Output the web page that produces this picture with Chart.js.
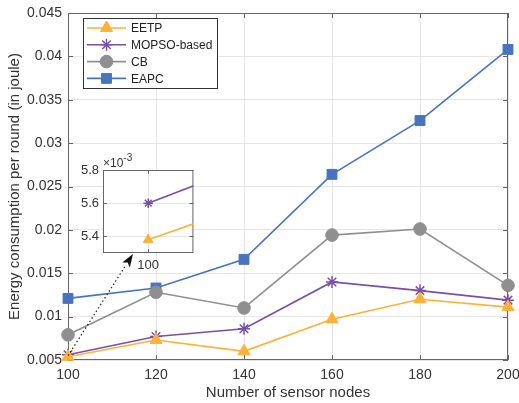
<!DOCTYPE html>
<html>
<head>
<meta charset="utf-8">
<script src="https://cdn.jsdelivr.net/npm/chart.js@4/dist/chart.umd.min.js"></script>
<style>
  html, body { margin: 0; padding: 0; background: #fff; }
  #wrap { position: relative; width: 519px; height: 403px; }
  #main { position: absolute; left: 0; top: 0; }
  #inset { position: absolute; left: 60px; top: 145px; }
</style>
</head>
<body>
<div id="wrap">
  <canvas id="main" width="519" height="403"></canvas>
  <canvas id="inset" width="140" height="130"></canvas>
</div>
<script>
const nodes = [100, 120, 140, 160, 180, 200];
const eetp  = [0.00538, 0.0073, 0.0060, 0.0097, 0.0120, 0.0111];
const mopso = [0.0056, 0.0077, 0.0086, 0.0140, 0.0130, 0.0119];
const cb    = [0.0079, 0.0128, 0.0110, 0.0194, 0.0201, 0.0136];
const eapc  = [0.0121, 0.0133, 0.0166, 0.0264, 0.0326, 0.0408];

const xTicks = [100, 120, 140, 160, 180, 200];
const yTicks = [0.005, 0.01, 0.015, 0.02, 0.025, 0.03, 0.035, 0.04, 0.045];
const insetXTicks = [100];
const insetYTicks = [0.0054, 0.0056, 0.0058];

const FONT = 'Liberation Sans, Arial, sans-serif';
const AXIS = '#666';
const GRID = '#e6e6e6';
const TXT = '#333';

const series = [
  { label: 'EETP',        data: eetp,  color: '#FBB237', style: 'triangle', r: 7,   bw: 1 },
  { label: 'MOPSO-based', data: mopso, color: '#7A4FA7', style: 'star',     r: 6,   bw: 1.5 },
  { label: 'CB',          data: cb,    color: '#8F8F8F', style: 'circle',   r: 6.3, bw: 1 },
  { label: 'EAPC',        data: eapc,  color: '#4874BF', style: 'rect',     r: 7,   bw: 1 }
];

const makeDatasets = (scale, clip) => series.map(s => ({
  label: s.label,
  data: nodes.map((x, i) => ({ x, y: s.data[i] })),
  borderColor: s.color,
  backgroundColor: s.color,
  pointBackgroundColor: s.color,
  pointBorderColor: s.color,
  pointStyle: s.style,
  pointRadius: s.r * scale,
  pointBorderWidth: s.bw,
  borderWidth: 1.6,
  tension: 0,
  clip: clip
}));

// pas de marge auto pour les étiquettes qui débordent
const noPad = s => { s.paddingLeft = 0; s.paddingRight = 0; s.paddingTop = 0; s.paddingBottom = 0; };

// cadre + graduations vers l'intérieur, façon MATLAB
const frameTicks = (len) => ({
  id: 'frameTicks',
  beforeDraw(chart, args, opts) {
    if (!opts.fill) return;
    const { ctx, chartArea: a } = chart;
    ctx.save();
    ctx.fillStyle = '#fff';
    ctx.fillRect(a.left, a.top, a.right - a.left, a.bottom - a.top);
    ctx.restore();
  },
  beforeDatasetsDraw(chart) {
    const { ctx, chartArea: a, scales } = chart;
    ctx.save();
    ctx.strokeStyle = AXIS;
    ctx.lineWidth = 1;
    ctx.strokeRect(a.left + 0.5, a.top + 0.5, a.right - a.left - 1, a.bottom - a.top - 1);
    ctx.beginPath();
    scales.x.ticks.forEach(t => {
      const px = Math.round(scales.x.getPixelForValue(t.value)) + 0.5;
      ctx.moveTo(px, a.bottom); ctx.lineTo(px, a.bottom - len);
      ctx.moveTo(px, a.top); ctx.lineTo(px, a.top + len);
    });
    scales.y.ticks.forEach(t => {
      const py = Math.round(scales.y.getPixelForValue(t.value)) + 0.5;
      ctx.moveTo(a.left, py); ctx.lineTo(a.left + len, py);
      ctx.moveTo(a.right, py); ctx.lineTo(a.right - len, py);
    });
    ctx.stroke();
    ctx.restore();
  }
});

const marker = (ctx, s, x, y) => {
  ctx.fillStyle = s.color;
  ctx.strokeStyle = s.color;
  ctx.lineWidth = s.bw;
  Chart.helpers.drawPoint(ctx, { pointStyle: s.style, radius: s.r, rotation: 0, borderWidth: s.bw }, x, y);
};

const legendBox = {
  id: 'legendBox',
  afterDraw(chart) {
    const ctx = chart.ctx;
    const x0 = 83, y0 = 18, w = 134, h = 70;
    ctx.save();
    ctx.fillStyle = '#fff';
    ctx.fillRect(x0, y0, w, h);
    ctx.strokeStyle = '#333';
    ctx.lineWidth = 1;
    ctx.strokeRect(x0 + 0.5, y0 + 0.5, w, h);
    series.forEach((s, i) => {
      const y = 28 + i * 16.8;
      ctx.strokeStyle = s.color;
      ctx.lineWidth = 1.6;
      ctx.beginPath();
      ctx.moveTo(87, y); ctx.lineTo(126, y);
      ctx.stroke();
      marker(ctx, s, 106.5, y);
      ctx.fillStyle = '#222';
      ctx.font = '12px ' + FONT;
      ctx.textBaseline = 'middle';
      ctx.fillText(s.label, 131, y + 1);
    });
    ctx.restore();
  }
};

const arrow = {
  id: 'arrow',
  afterDatasetsDraw(chart) {
    const { ctx, scales } = chart;
    const sx = scales.x.getPixelForValue(100), sy = scales.y.getPixelForValue(0.0055);
    const ex = 133, ey = 254;
    const dx = ex - sx, dy = ey - sy, L = Math.hypot(dx, dy);
    const ux = dx / L, uy = dy / L, hl = 13, hw = 4.5;
    const bx = ex - ux * hl, by = ey - uy * hl;
    ctx.save();
    ctx.strokeStyle = '#222';
    ctx.lineWidth = 1.2;
    ctx.setLineDash([1.5, 2.5]);
    ctx.beginPath();
    ctx.moveTo(sx, sy); ctx.lineTo(bx, by);
    ctx.stroke();
    ctx.setLineDash([]);
    ctx.fillStyle = '#111';
    ctx.beginPath();
    ctx.moveTo(ex, ey);
    ctx.lineTo(bx - uy * hw, by + ux * hw);
    ctx.lineTo(bx + ux * 3, by + uy * 3);
    ctx.lineTo(bx + uy * hw, by - ux * hw);
    ctx.closePath();
    ctx.fill();
    ctx.restore();
  }
};

const setup = () => {
  new Chart(document.getElementById('main'), {
    type: 'line',
    data: { datasets: makeDatasets(1, false) },
    plugins: [frameTicks(5), arrow, legendBox],
    options: {
      responsive: false,
      animation: false,
      devicePixelRatio: 1,
      layout: { padding: { top: 13, right: 11, left: 0, bottom: 0 } },
      plugins: { legend: { display: false }, tooltip: { enabled: false }, frameTicks: { fill: false } },
      scales: {
        x: {
          type: 'linear', min: 100, max: 200,
          afterBuildTicks: s => { s.ticks = xTicks.map(v => ({ value: v })); },
          afterFit: s => { s.height = 43; noPad(s); },
          grid: { color: GRID, drawTicks: false },
          border: { display: false },
          ticks: { padding: 7, color: TXT, font: { family: FONT, size: 14 }, maxRotation: 0 },
          title: { display: true, text: 'Number of sensor nodes', color: TXT,
                   font: { family: FONT, size: 15 }, padding: { top: 0, bottom: 1 } }
        },
        y: {
          type: 'linear', min: 0.005, max: 0.045,
          afterBuildTicks: s => { s.ticks = yTicks.map(v => ({ value: v })); },
          afterFit: s => { s.width = 68; noPad(s); },
          grid: { color: GRID, drawTicks: false },
          border: { display: false },
          ticks: { padding: 6, color: TXT, font: { family: FONT, size: 14 },
                   callback: v => String(+v.toFixed(3)) },
          title: { display: true, text: 'Energy consumption per round (in joule)', color: TXT,
                   font: { family: FONT, size: 15 }, padding: { top: 6, bottom: 0 } }
        }
      }
    }
  });

  const expo = {
    id: 'expo',
    afterDraw(chart) {
      const { ctx, chartArea: a } = chart;
      ctx.save();
      ctx.fillStyle = TXT;
      ctx.textBaseline = 'alphabetic';
      ctx.font = '12px ' + FONT;
      ctx.fillText('\u00d710', a.left, a.top - 3);
      const w = ctx.measureText('\u00d710').width;
      ctx.font = '10px ' + FONT;
      ctx.fillText('-3', a.left + w, a.top - 9);
      ctx.restore();
    }
  };

  new Chart(document.getElementById('inset'), {
    type: 'line',
    data: { datasets: makeDatasets(0.8, 0) },
    plugins: [frameTicks(4), expo],
    options: {
      responsive: false,
      animation: false,
      devicePixelRatio: 1,
      layout: { padding: { top: 25, right: 6, left: 0, bottom: 0 } },
      plugins: { legend: { display: false }, tooltip: { enabled: false }, frameTicks: { fill: true } },
      scales: {
        x: {
          type: 'linear', min: 99, max: 101,
          afterBuildTicks: s => { s.ticks = insetXTicks.map(v => ({ value: v })); },
          afterFit: s => { s.height = 22; noPad(s); },
          grid: { color: GRID, drawTicks: false },
          border: { display: false },
          ticks: { padding: 5, color: TXT, font: { family: FONT, size: 13 }, maxRotation: 0 }
        },
        y: {
          type: 'linear', min: 0.0053, max: 0.0058,
          afterBuildTicks: s => { s.ticks = insetYTicks.map(v => ({ value: v })); },
          afterFit: s => { s.width = 43; noPad(s); },
          grid: { color: GRID, drawTicks: false },
          border: { display: false },
          ticks: { padding: 4, color: TXT, font: { family: FONT, size: 13 },
                   callback: v => (v * 1000).toFixed(1) }
        }
      }
    }
  });
};

window.addEventListener('DOMContentLoaded', setup);
</script>
</body>
</html>
